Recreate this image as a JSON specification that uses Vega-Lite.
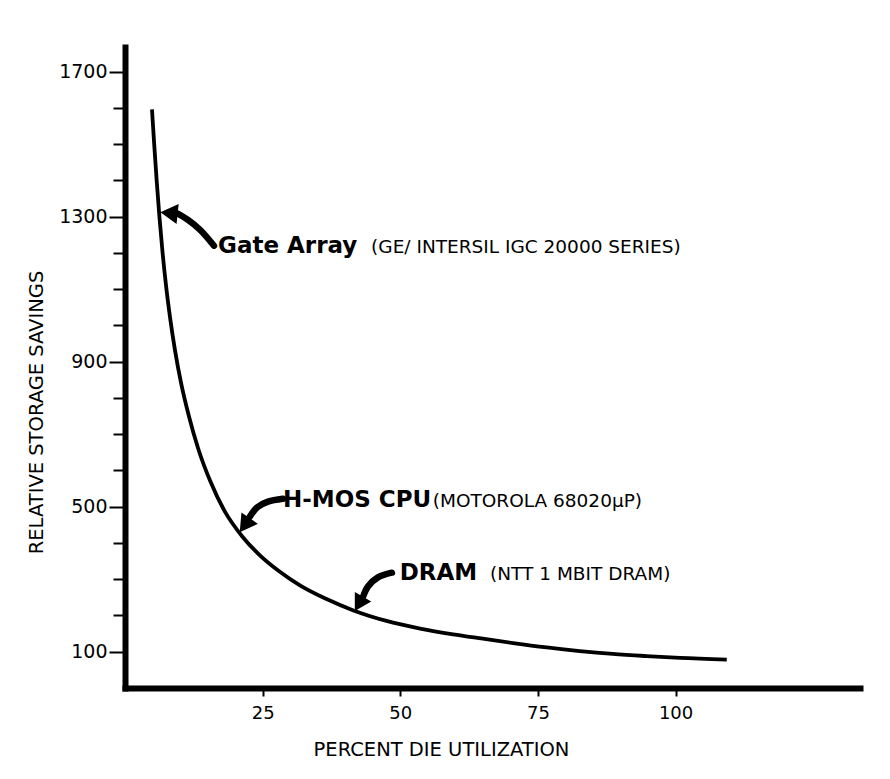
{
  "$schema": "https://vega.github.io/schema/vega-lite/v6.json",
  "width": 735,
  "height": 641,
  "autosize": "none",
  "padding": {"left": 125, "top": 47, "right": 30, "bottom": 91},
  "background": "white",
  "config": {
    "view": {"stroke": null},
    "axis": {
      "grid": false,
      "domainColor": "black",
      "tickColor": "black",
      "labelColor": "black",
      "titleColor": "black",
      "labelFont": "DejaVu Sans",
      "titleFont": "DejaVu Sans",
      "titleFontWeight": "normal"
    }
  },
  "datasets": {
    "curve": [
      {"utilization": 4.9, "savings": 1596},
      {"utilization": 5.3, "savings": 1500},
      {"utilization": 5.75, "savings": 1400},
      {"utilization": 6.25, "savings": 1300},
      {"utilization": 6.8, "savings": 1205},
      {"utilization": 7.45, "savings": 1110},
      {"utilization": 8.2, "savings": 1020},
      {"utilization": 9.1, "savings": 930},
      {"utilization": 10.2, "savings": 840},
      {"utilization": 11.6, "savings": 750},
      {"utilization": 13.3, "savings": 660},
      {"utilization": 15.5, "savings": 570},
      {"utilization": 18.2, "savings": 485},
      {"utilization": 21.3, "savings": 418},
      {"utilization": 24.5, "savings": 366},
      {"utilization": 28.0, "savings": 322},
      {"utilization": 32.0, "savings": 281},
      {"utilization": 36.5, "savings": 246},
      {"utilization": 41.5, "savings": 214},
      {"utilization": 47.5, "savings": 185},
      {"utilization": 53.6, "savings": 164},
      {"utilization": 59.6, "savings": 148},
      {"utilization": 65.0, "savings": 136},
      {"utilization": 70.5, "savings": 124},
      {"utilization": 76.6, "savings": 112},
      {"utilization": 82.6, "savings": 102},
      {"utilization": 88.6, "savings": 94},
      {"utilization": 94.7, "savings": 88},
      {"utilization": 100.8, "savings": 83},
      {"utilization": 109.3, "savings": 78.5}
    ],
    "shafts": [
      {"arrow": "gate", "i": 0, "x": 16.16, "y": 1220},
      {"arrow": "gate", "i": 1, "x": 13.62, "y": 1264},
      {"arrow": "gate", "i": 2, "x": 11.44, "y": 1291},
      {"arrow": "gate", "i": 3, "x": 9.62, "y": 1308},
      {"arrow": "hmos", "i": 0, "x": 28.69, "y": 522},
      {"arrow": "hmos", "i": 1, "x": 25.97, "y": 514},
      {"arrow": "hmos", "i": 2, "x": 23.97, "y": 498},
      {"arrow": "hmos", "i": 3, "x": 22.7, "y": 473},
      {"arrow": "dram", "i": 0, "x": 48.48, "y": 318},
      {"arrow": "dram", "i": 1, "x": 45.94, "y": 305},
      {"arrow": "dram", "i": 2, "x": 44.13, "y": 280},
      {"arrow": "dram", "i": 3, "x": 43.22, "y": 251}
    ],
    "heads": [
      {"arrow": "gate", "x": 7.99, "y": 1310},
      {"arrow": "hmos", "x": 21.74, "y": 449},
      {"arrow": "dram", "x": 42.49, "y": 232}
    ],
    "labels": [
      {"name": "Gate Array", "detail": "(GE/ INTERSIL  IGC 20000 SERIES)", "name_x": 16.9, "detail_x": 44.7, "y": 1200},
      {"name": "H-MOS CPU", "detail": "(MOTOROLA 68020\u03bcP)", "name_x": 28.7, "detail_x": 55.9, "y": 498},
      {"name": "DRAM", "detail": "(NTT 1 MBIT DRAM)", "name_x": 49.9, "detail_x": 66.3, "y": 299}
    ]
  },
  "layer": [
    {
      "data": {"name": "curve"},
      "mark": {"type": "line", "color": "black", "strokeWidth": 3.8, "interpolate": "monotone"},
      "encoding": {
        "x": {
          "field": "utilization", "type": "quantitative",
          "scale": {"domain": [0, 133.5], "nice": false, "zero": false},
          "axis": {
            "values": [25, 50, 75, 100],
            "format": "d",
            "tickSize": 8, "tickWidth": 2,
            "labelPadding": 8, "labelFontSize": 18, "labelBaseline": "top",
            "domainWidth": 6, "domainCap": "square",
            "title": "PERCENT DIE UTILIZATION",
            "titleFontSize": 19.5, "titleX": 316, "titleY": 67,
            "titleAlign": "center", "titleBaseline": "alphabetic"
          }
        },
        "y": {
          "field": "savings", "type": "quantitative",
          "scale": {"domain": [0, 1768], "nice": false, "zero": false},
          "axis": {
            "orient": "left",
            "values": [100, 500, 900, 1300, 1700],
            "format": "d",
            "tickSize": 16, "tickWidth": 2,
            "labelPadding": 2, "labelFontSize": 19, "labelBaseline": "middle",
            "domainWidth": 6, "domainCap": "square",
            "title": "RELATIVE STORAGE SAVINGS",
            "titleFontSize": 19.5, "titleX": -83, "titleY": 365,
            "titleAngle": 270, "titleAlign": "center", "titleBaseline": "alphabetic"
          }
        }
      }
    },
    {
      "data": {"name": "curve"},
      "mark": {"type": "line", "opacity": 0},
      "encoding": {
        "x": {"field": "utilization", "type": "quantitative"},
        "y": {
          "field": "savings", "type": "quantitative",
          "axis": {
            "orient": "left",
            "values": [200, 300, 400, 600, 700, 800, 1000, 1100, 1200, 1400, 1500, 1600],
            "tickSize": 12, "tickWidth": 2,
            "labels": false, "domain": false, "title": null
          }
        }
      }
    },
    {
      "data": {"name": "shafts"},
      "mark": {"type": "line", "color": "black", "strokeWidth": 6.5, "strokeCap": "round", "interpolate": "catmull-rom"},
      "encoding": {
        "x": {"field": "x", "type": "quantitative"},
        "y": {"field": "y", "type": "quantitative", "axis": null},
        "detail": {"field": "arrow"},
        "order": {"field": "i"}
      }
    },
    {
      "data": {"name": "heads"},
      "transform": [{"filter": "datum.arrow == 'gate'"}],
      "mark": {"type": "point", "shape": "triangle-up", "filled": true, "color": "black", "opacity": 1, "size": 400, "angle": 276},
      "encoding": {
        "x": {"field": "x", "type": "quantitative"},
        "y": {"field": "y", "type": "quantitative", "axis": null}
      }
    },
    {
      "data": {"name": "heads"},
      "transform": [{"filter": "datum.arrow == 'hmos'"}],
      "mark": {"type": "point", "shape": "triangle-up", "filled": true, "color": "black", "opacity": 1, "size": 400, "angle": 215},
      "encoding": {
        "x": {"field": "x", "type": "quantitative"},
        "y": {"field": "y", "type": "quantitative", "axis": null}
      }
    },
    {
      "data": {"name": "heads"},
      "transform": [{"filter": "datum.arrow == 'dram'"}],
      "mark": {"type": "point", "shape": "triangle-up", "filled": true, "color": "black", "opacity": 1, "size": 360, "angle": 210},
      "encoding": {
        "x": {"field": "x", "type": "quantitative"},
        "y": {"field": "y", "type": "quantitative", "axis": null}
      }
    },
    {
      "data": {"name": "labels"},
      "mark": {"type": "text", "align": "left", "baseline": "alphabetic", "font": "DejaVu Sans", "fontWeight": "bold", "fontSize": 23, "color": "black"},
      "encoding": {
        "x": {"field": "name_x", "type": "quantitative"},
        "y": {"field": "y", "type": "quantitative", "axis": null},
        "text": {"field": "name"}
      }
    },
    {
      "data": {"name": "labels"},
      "mark": {"type": "text", "align": "left", "baseline": "alphabetic", "font": "DejaVu Sans", "fontSize": 18.5, "color": "black"},
      "encoding": {
        "x": {"field": "detail_x", "type": "quantitative"},
        "y": {"field": "y", "type": "quantitative", "axis": null},
        "text": {"field": "detail"}
      }
    }
  ],
  "resolve": {"axis": {"y": "independent"}}
}
